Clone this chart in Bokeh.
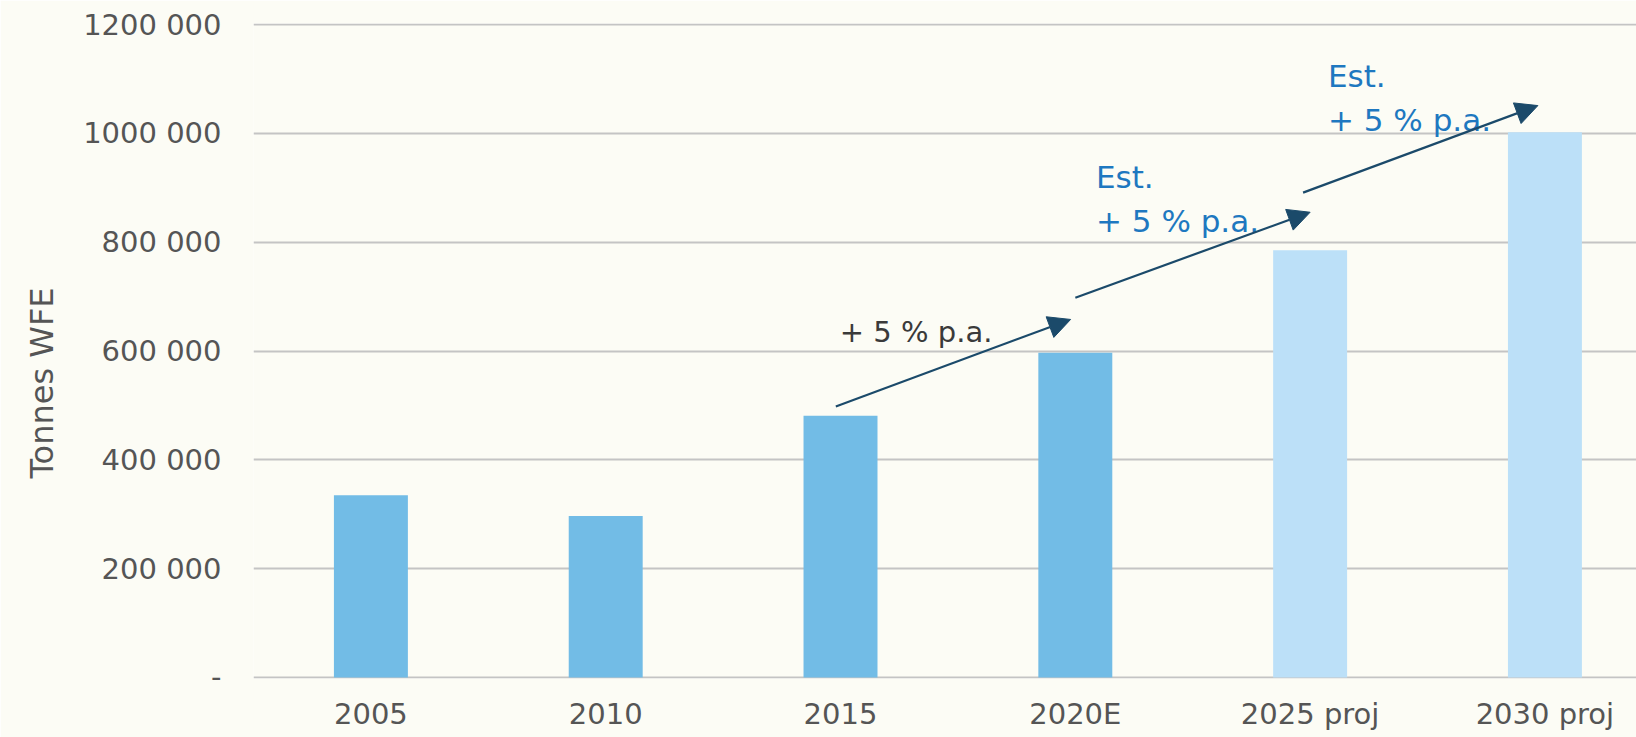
import math
from bokeh.plotting import figure
from bokeh.models import Range1d, FixedTicker, Title, Arrow, NormalHead
from bokeh.embed import file_html
from bokeh.resources import INLINE
from bokeh.core.properties import value

# ---------------- data ----------------
categories = ["2005", "2010", "2015", "2020E", "2025 proj", "2030 proj"]
tonnes_wfe = [335000, 297000, 481000, 597000, 785000, 1002000]
is_projection = [False, False, False, False, True, True]

y_ticks = [0, 200000, 400000, 600000, 800000, 1000000, 1200000]
y_tick_labels = ["-", "200 000", "400 000", "600 000", "800 000", "1000 000", "1200 000"]

growth_text = "+ 5 % p.a."
est_text = "Est."
y_title = "Tonnes WFE"

# ---------------- styles ----------------
BG = "#FCFCF5"
GRID = "#C4C4C4"
BAR_ACTUAL = "#72BCE6"
BAR_PROJ = "#BCE0F8"
ARROW = "#1B4A6A"
BLUE_TXT = "#1E78C0"
DARK_TXT = "#3A3A3A"
TICK_TXT = "#555555"
FONT = "DejaVu Sans"

x_idx = list(range(len(categories)))
colors = [BAR_PROJ if pr else BAR_ACTUAL for pr in is_projection]

pad = 1838  # one pixel of value, so the 0 and 1 200 000 grid lines are drawn
p = figure(width=1636, height=737, output_backend="svg", toolbar_location=None,
           x_range=Range1d(-0.5, 5.39), y_range=Range1d(-pad, 1200000 + pad),
           min_border_left=253, min_border_right=0, min_border_top=23, min_border_bottom=59)
p.background_fill_color = BG
p.border_fill_color = BG
p.outline_line_color = None

p.vbar(x=x_idx, top=tonnes_wfe, width=0.315, fill_color=colors, line_color=None)

# axes
p.xaxis.ticker = FixedTicker(ticks=x_idx)
p.xaxis.major_label_overrides = {i: c for i, c in zip(x_idx, categories)}
p.yaxis.ticker = FixedTicker(ticks=y_ticks)
p.yaxis.major_label_overrides = {t: l for t, l in zip(y_ticks, y_tick_labels)}
for ax in (p.xaxis, p.yaxis):
    ax.axis_line_color = None
    ax.major_tick_line_color = None
    ax.minor_tick_line_color = None
    ax.major_tick_out = 0
    ax.major_tick_in = 0
    ax.major_label_text_font = FONT
    ax.major_label_text_font_size = "29px"
    ax.major_label_text_color = TICK_TXT
p.yaxis.major_label_standoff = 32
p.xaxis.major_label_standoff = 18

p.xgrid.grid_line_color = None
p.ygrid.ticker = FixedTicker(ticks=y_ticks)
p.ygrid.grid_line_color = GRID
p.ygrid.grid_line_width = 2

# y-axis title
p.add_layout(Title(text=y_title, align="left", offset=200, standoff=38,
                   vertical_align="middle",
                   text_font=FONT, text_font_size="32px", text_font_style="normal",
                   text_color=TICK_TXT), "left")

# growth arrows (from one category to the next)
arrow_x0 = [1.98, 3.00, 3.97]
arrow_y0 = [498000, 698000, 891000]
arrow_x1 = [2.98, 4.00, 4.97]
arrow_y1 = [658000, 855000, 1051000]
for xs, ys, xe, ye in zip(arrow_x0, arrow_y0, arrow_x1, arrow_y1):
    p.add_layout(Arrow(x_start=xs, y_start=ys, x_end=xe, y_end=ye,
                       line_color=ARROW, line_width=2.2,
                       end=NormalHead(size=22, fill_color=ARROW, line_color=ARROW)))

# growth annotations
p.text(x=[1.997], y=[635800], text=[growth_text], text_font=value(FONT),
       text_font_size="29px", text_color=DARK_TXT, text_baseline="alphabetic",
       text_align="left")
p.text(x=[3.088, 4.076], y=[920600, 1106000], text=[est_text, est_text], text_font=value(FONT),
       text_font_size="31px", text_color=BLUE_TXT, text_baseline="alphabetic",
       text_align="left")
p.text(x=[3.088, 4.076], y=[839800, 1023600], text=[growth_text, growth_text], text_font=value(FONT),
       text_font_size="31px", text_color=BLUE_TXT, text_baseline="alphabetic",
       text_align="left")

open("out.html", "w").write(file_html(p, INLINE))
